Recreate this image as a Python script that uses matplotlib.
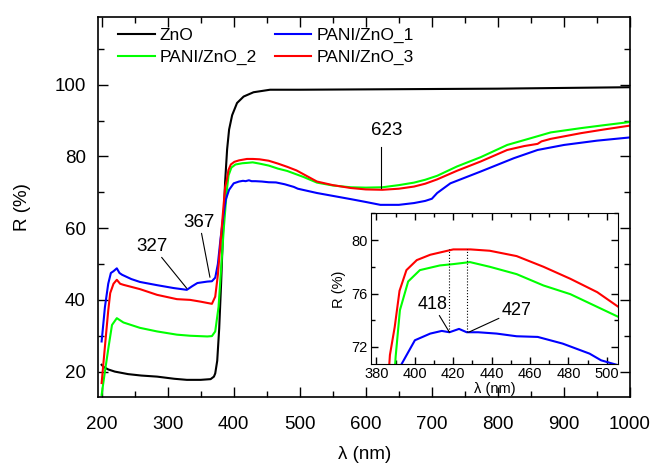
import numpy as np
import matplotlib.pyplot as plt
from matplotlib.ticker import MultipleLocator

plt.rcParams['font.family'] = ['Liberation Sans', 'DejaVu Sans']

# ZnO (black)
wl_zno = [200, 203, 210, 220, 240, 260, 284, 310, 329, 350, 365, 370, 372, 375, 378, 381, 384, 387,
          390, 393, 397.6, 405, 415, 430, 455, 500, 600, 700, 800, 900, 1000]
r_zno = [21.9, 21.3, 20.6, 20.0, 19.3, 18.9, 18.6, 18.0, 17.7, 17.7, 17.9, 18.6, 19.5, 23, 32, 45, 60, 73,
         82, 87.5, 91.5, 94.9, 96.7, 97.9, 98.6, 98.6, 98.7, 98.8, 98.9, 99.1, 99.3]

# PANI/ZnO_1 (blue)
wl_p1 = [200, 205, 210, 214, 218, 223, 227, 231, 245, 258, 284, 309, 329, 337, 345, 360, 367, 372, 376,
         380, 384, 388, 393, 400, 408, 414, 418, 423, 427, 433, 442.6, 453, 464, 477, 491, 497, 526, 577,
         600, 622, 650, 673, 690, 700, 708, 728, 774, 824, 860, 900, 950, 1000]
r_p1 = [28.4, 38, 44.5, 47.5, 48, 48.8, 47.5, 47, 45.8, 45, 44.1, 43.3, 42.8, 43.8, 44.7, 45.1, 45.2, 46.2, 50,
        57, 63, 68, 70.7, 72.5, 73, 73.2, 73.1, 73.35, 73.1, 73.1, 73.0, 72.8, 72.75, 72.25, 71.5, 71.0, 69.8, 68.1,
        67.3, 66.5, 66.5, 67.0, 67.6, 68.2, 69.8, 72.5, 75.8, 79.5, 81.8, 83.2, 84.4, 85.3]

# PANI/ZnO_2 (green)
wl_p2 = [200, 205, 210.6, 215.7, 223, 233, 258, 284, 314, 334, 360, 367, 372, 377, 381, 385, 388, 390,
         392.2, 396.5, 402.6, 413, 420, 428.7, 439, 453, 467, 481, 506, 526, 550, 577, 600, 625, 650, 673,
         690, 708, 738, 774, 814, 850, 880, 926, 960, 1000]
r_p2 = [13.5, 20, 27, 33, 34.9, 33.7, 32.2, 31.2, 30.3, 30.0, 29.8, 29.9, 31.2, 38, 49, 60, 67, 71.3,
        74.75, 76.9, 77.75, 78.1, 78.2, 78.35, 78.0, 77.45, 76.6, 75.95, 74.25, 72.7, 71.9, 71.4, 71.3, 71.4, 72.0, 72.7,
        73.5, 74.6, 77.2, 79.8, 83.2, 85.1, 86.7, 87.9, 88.7, 89.6]

# PANI/ZnO_3 (red)
wl_p3 = [200, 205, 210, 213, 218, 223, 228, 233, 258, 284, 314, 334, 350, 367, 372, 376, 380, 384, 387,
         389.5, 392, 395.6, 401, 408, 420, 429, 439, 453, 467, 481, 495, 506, 526, 550, 577, 600, 625, 650,
         673, 690, 708, 738, 774, 814, 840, 860, 866, 880, 926, 960, 1000]
r_p3 = [16.8, 27, 37, 41.9, 44.5, 45.6, 44.5, 44.2, 43, 41.4, 40.2, 40.0, 39.5, 38.9, 40.9, 47, 56, 65, 71.4,
        73.5, 76.2, 77.75, 78.5, 78.9, 79.3, 79.3, 79.2, 78.8, 78.0, 77.1, 76.1, 75.0, 73.0, 72.0, 71.2, 70.8, 70.7, 71.0,
        71.6, 72.4, 73.6, 76.0, 78.6, 81.8, 82.9, 83.5, 84.2, 84.9, 86.5, 87.5, 88.6]

series = [
    ("ZnO", wl_zno, r_zno, "black"),
    ("PANI/ZnO_2", wl_p2, r_p2, "#00ff00"),
    ("PANI/ZnO_1", wl_p1, r_p1, "#0000ff"),
    ("PANI/ZnO_3", wl_p3, r_p3, "#ff0000"),
]

fig = plt.figure(figsize=(6.52, 4.66), dpi=100)
ax = fig.add_axes([0.1508, 0.1487, 0.8155, 0.8142])

for name, x, y, c in series:
    ax.plot(x, y, color=c, lw=1.5, label=name)

ax.set_xlim(195, 1000)
ax.set_ylim(13, 118.8)
ax.xaxis.set_major_locator(MultipleLocator(100))
ax.xaxis.set_minor_locator(MultipleLocator(50))
ax.yaxis.set_major_locator(MultipleLocator(20))
ax.yaxis.set_minor_locator(MultipleLocator(10))
ax.set_yticks([20, 40, 60, 80, 100])
ax.tick_params(which='both', direction='in', top=True, right=True, width=1)
ax.tick_params(which='major', length=7, labelsize=13.5)
ax.tick_params(which='minor', length=4)
ax.tick_params(axis='x', pad=14)
ax.tick_params(axis='y', pad=9)
for s in ax.spines.values():
    s.set_linewidth(1.2)
ax.set_xlabel("λ (nm)", fontsize=13.5, labelpad=9)
ax.set_ylabel("R (%)", fontsize=13.5, labelpad=17)

ax.legend(loc='upper left', ncol=2, frameon=False, fontsize=12.5, handlelength=2.1,
          handletextpad=0.3, columnspacing=1.0, labelspacing=0.38,
          bbox_to_anchor=(0.018, 1.0), borderaxespad=0.2)

arrow = dict(arrowstyle='-', color='black', lw=0.8, shrinkA=0, shrinkB=0)
ax.annotate("327", xy=(329, 43.2), xytext=(277, 55.0), fontsize=13.5, ha='center', va='center',
            arrowprops=arrow)
ax.annotate("367", xy=(364, 46.3), xytext=(348, 61.7), fontsize=13.5, ha='center', va='center',
            arrowprops=arrow)
ax.annotate("623", xy=(623, 71.2), xytext=(632, 87.2), fontsize=13.5, ha='center', va='center')
ax.plot([623, 623], [71.2, 82.6], color='black', lw=0.8)

# inset: PANI samples only
ins = fig.add_axes([0.5686, 0.2182, 0.3798, 0.324])
for name, x, y, c in series[1:]:
    ins.plot(x, y, color=c, lw=1.5)
ins.set_xlim(377, 506)
ins.set_ylim(70.7, 82)
ins.xaxis.set_major_locator(MultipleLocator(20))
ins.xaxis.set_minor_locator(MultipleLocator(10))
ins.yaxis.set_major_locator(MultipleLocator(4))
ins.yaxis.set_minor_locator(MultipleLocator(2))
ins.tick_params(which='both', direction='in', top=True, right=True, width=1)
ins.tick_params(which='major', length=5, labelsize=10.5, pad=2)
ins.tick_params(which='minor', length=3)
ins.set_xlabel("λ (nm)", fontsize=10.5, labelpad=1)
ins.set_ylabel("R (%)", fontsize=10.5, labelpad=4)
ins.plot([418, 418], [73.1, 79.3], color='black', lw=0.8, ls=':')
ins.plot([427, 427], [73.1, 79.3], color='black', lw=0.8, ls=':')
ins.annotate("418", xy=(418, 73.1), xytext=(409.2, 75.2), fontsize=13, ha='center', va='center',
             arrowprops=arrow)
ins.annotate("427", xy=(428, 73.1), xytext=(453, 74.75), fontsize=13, ha='center', va='center',
             arrowprops=arrow)

fig.savefig("out.png", dpi=100)
